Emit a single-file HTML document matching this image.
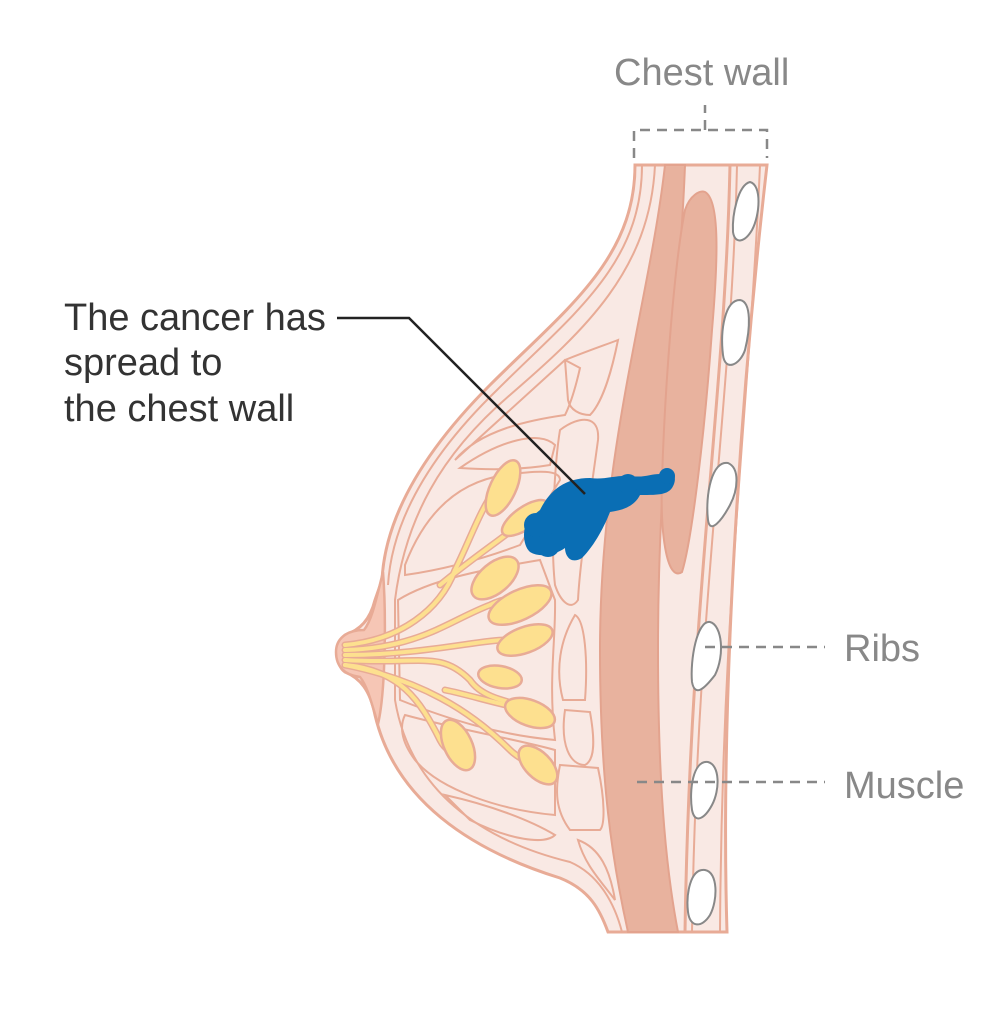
<!DOCTYPE html>
<html><head><meta charset="utf-8"><style>
html,body{margin:0;padding:0;background:#fff;width:1003px;height:1024px;overflow:hidden}
svg{display:block}
text{font-family:"Liberation Sans",sans-serif;font-size:38px}
</style></head><body>
<svg width="1003" height="1024" viewBox="0 0 1003 1024" xmlns="http://www.w3.org/2000/svg">
<path d="M635,165 C635,260 565,310 490,385 C420,455 385,520 382,580 L375,600 C370,620 360,630 345,635 C335,645 335,665 345,672 C360,678 370,690 375,715 C395,800 470,850 560,878 C590,890 600,910 608,932 L727,932 C720,700 740,400 767,165 Z" fill="#f9e9e4" stroke="#e8ab96" stroke-width="3"/>
<path d="M642,165 C642,265 572,315 497,390 C430,455 392,520 388,585" fill="none" stroke="#e8ab96" stroke-width="2"/>
<path d="M655,165 C650,270 585,330 510,395 C440,455 405,520 395,600 L395,700 C410,790 480,840 570,862 C600,875 615,905 622,932" fill="none" stroke="#e8ab96" stroke-width="2"/>
<path d="M665,165 L685,165 C680,300 658,450 658,650 C658,800 668,880 678,932 L628,932 C612,860 600,780 600,650 C600,450 650,300 665,165 Z" fill="#e8b29e" stroke="#e3a38e" stroke-width="2"/>
<path d="M705,192 C720,200 718,260 712,330 C705,430 692,540 682,572 C668,582 660,540 662,480 C665,380 675,260 685,210 C690,195 700,190 705,192Z" fill="#e8b29e" stroke="#e3a38e" stroke-width="2"/>
<path d="M730,165 C725,400 690,600 685,932" fill="none" stroke="#e8ab96" stroke-width="3"/>
<path d="M737,165 C732,400 697,600 692,932" fill="none" stroke="#e8ab96" stroke-width="2"/>
<path d="M760,165 C750,400 722,600 720,932" fill="none" stroke="#e8ab96" stroke-width="2"/>
<g fill="none" stroke="#e8ab96" stroke-width="2">
<path d="M460,468 C500,440 540,430 555,445 L550,465 C520,470 490,470 460,468Z"/>
<path d="M565,360 C590,350 605,345 618,340 C610,380 600,405 590,415 C580,415 570,410 568,400Z"/>
<path d="M565,360 L580,368 C575,390 570,405 565,415 C530,420 480,430 455,460Z"/>
<path d="M405,565 C430,500 470,480 505,475 C540,470 560,470 560,480 L520,545 C480,560 440,570 405,575Z"/>
<path d="M560,430 C580,415 600,415 598,440 C590,500 580,560 578,600 C570,612 560,600 555,585 C550,540 555,460 560,430Z"/>
<path d="M398,600 C430,580 480,570 540,560 L555,600 C556,640 548,680 555,740 C500,735 450,720 400,700Z"/>
<path d="M575,615 C585,620 588,660 585,700 L563,700 C555,670 560,640 575,615Z"/>
<path d="M565,710 L590,712 C595,740 595,760 585,765 C570,765 560,745 565,710Z"/>
<path d="M405,715 C460,730 520,740 555,750 L555,815 C500,810 440,790 415,760 C400,740 400,725 405,715Z"/>
<path d="M560,765 L598,768 C605,800 605,825 600,830 L570,830 C555,810 555,790 560,765Z"/>
<path d="M445,795 C490,805 530,820 555,835 C545,845 510,840 470,820Z"/>
<path d="M578,840 C600,848 610,870 615,900 C600,880 585,865 578,840Z"/>
</g>
<path d="M383,572 C376,600 372,620 364,630 C345,630 336,640 336,652 C336,667 345,675 360,677 C368,687 372,705 378,724 C386,690 386,610 383,572Z" fill="#f6c6b5" stroke="#e8ab96" stroke-width="2.5"/>
<g fill="none" stroke="#e8ab96" stroke-width="7" stroke-linecap="round">
<path d="M345,645 C400,640 440,610 455,570 C470,540 480,510 495,490"/>
<path d="M345,650 C420,648 450,620 490,605 C520,590 540,605 545,600"/>
<path d="M345,655 C420,655 480,640 505,640 C520,640 530,635 545,635"/>
<path d="M345,660 C420,665 440,650 470,680 C480,695 500,700 520,705"/>
<path d="M345,665 C400,670 420,700 440,740 C445,750 455,755 460,755"/>
<path d="M345,665 C420,680 470,710 510,750 C520,760 535,765 545,768"/>
<path d="M440,585 C470,560 500,540 525,520"/>
<path d="M445,690 C470,695 500,705 530,710"/>
</g>
<g fill="none" stroke="#fde08f" stroke-width="4" stroke-linecap="round">
<path d="M345,645 C400,640 440,610 455,570 C470,540 480,510 495,490"/>
<path d="M345,650 C420,648 450,620 490,605 C520,590 540,605 545,600"/>
<path d="M345,655 C420,655 480,640 505,640 C520,640 530,635 545,635"/>
<path d="M345,660 C420,665 440,650 470,680 C480,695 500,700 520,705"/>
<path d="M345,665 C400,670 420,700 440,740 C445,750 455,755 460,755"/>
<path d="M345,665 C420,680 470,710 510,750 C520,760 535,765 545,768"/>
<path d="M440,585 C470,560 500,540 525,520"/>
<path d="M445,690 C470,695 500,705 530,710"/>
</g>
<g fill="#fde08f" stroke="#e8ab96" stroke-width="2.5">
<ellipse cx="503" cy="488" rx="13" ry="30" transform="rotate(25 503 488)"/>
<ellipse cx="525" cy="518" rx="11" ry="27" transform="rotate(55 525 518)"/>
<ellipse cx="495" cy="578" rx="15" ry="28" transform="rotate(50 495 578)"/>
<ellipse cx="520" cy="605" rx="15" ry="34" transform="rotate(65 520 605)"/>
<ellipse cx="525" cy="640" rx="13" ry="29" transform="rotate(70 525 640)"/>
<ellipse cx="500" cy="677" rx="11" ry="22" transform="rotate(100 500 677)"/>
<ellipse cx="530" cy="713" rx="13" ry="26" transform="rotate(110 530 713)"/>
<ellipse cx="458" cy="745" rx="14" ry="27" transform="rotate(-25 458 745)"/>
<ellipse cx="538" cy="765" rx="13" ry="24" transform="rotate(-45 538 765)"/>
</g>
<g fill="#fff" stroke="#888" stroke-width="2">
<path d="M750,182 C762,185 760,215 752,230 C745,242 735,245 733,232 C732,215 738,185 750,182Z"/>
<path d="M740,300 C752,302 750,330 745,350 C740,365 725,372 723,355 C720,330 725,300 740,300Z"/>
<path d="M728,463 C740,468 738,490 730,505 C722,520 710,535 708,520 C705,495 712,460 728,463Z"/>
<path d="M710,622 C722,625 725,655 715,675 C705,688 695,698 692,682 C690,660 697,620 710,622Z"/>
<path d="M708,762 C720,765 720,790 712,805 C705,818 695,825 692,810 C689,790 693,760 708,762Z"/>
<path d="M705,870 C718,872 718,900 710,915 C702,928 690,928 688,912 C686,895 690,868 705,870Z"/>
</g>
<g fill="#0a6eb4">
<path d="M540,510 C550,490 565,478 590,478 C605,480 615,475 630,476 C645,478 650,474 660,474 C668,468 678,472 674,484 C670,495 660,495 640,495 C635,505 625,510 610,512 C605,525 595,545 582,558 C570,565 565,555 565,548 C555,555 540,558 530,552 C522,545 522,525 530,518Z"/>
<circle cx="577" cy="490" r="10"/><circle cx="628" cy="484" r="10"/><circle cx="667" cy="476" r="8"/><circle cx="536" cy="525" r="12"/><circle cx="548" cy="545" r="12"/><circle cx="578" cy="548" r="9"/>
</g>
<polyline points="337,318 409,318 585,494" fill="none" stroke="#222" stroke-width="2.5"/>
<g fill="none" stroke="#888" stroke-width="2.5" stroke-dasharray="10,7">
<path d="M634,158 L634,130 L767,130 L767,158"/>
<path d="M705,130 L705,105"/>
<path d="M705,647 L825,647"/>
<path d="M637,782 L825,782"/>
</g>
<text x="614" y="85" fill="#888">Chest wall</text>
<text x="64" y="330" fill="#333">The cancer has</text>
<text x="64" y="375" fill="#333">spread to</text>
<text x="64" y="421" fill="#333">the chest wall</text>
<text x="844" y="661" fill="#888">Ribs</text>
<text x="844" y="798" fill="#888">Muscle</text>
</svg>
</body></html>
